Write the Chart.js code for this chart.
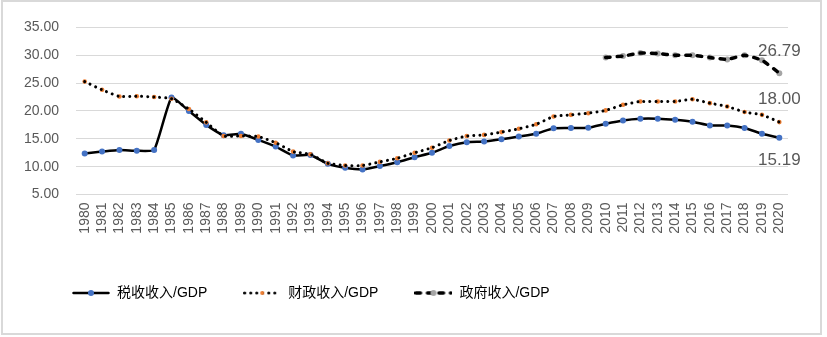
<!DOCTYPE html>
<html>
<head>
<meta charset="utf-8">
<script src="https://cdn.jsdelivr.net/npm/chart.js@4"></script>
<style>
  body { margin: 0; background: #fff; }
  #frame {
    position: absolute; left: 1px; top: 0; width: 821px; height: 335px;
    border: 2px solid #d9d9d9; box-sizing: border-box;
  }
  #box { position: relative; width: 817px; height: 331px; }
</style>
</head>
<body>
<div id="frame"><div id="box"><canvas id="revenueChart"></canvas></div></div>
<script>
const years = [
  "1980", "1981", "1982", "1983", "1984", "1985", "1986", "1987", "1988", "1989",
  "1990", "1991", "1992", "1993", "1994", "1995", "1996", "1997", "1998", "1999",
  "2000", "2001", "2002", "2003", "2004", "2005", "2006", "2007", "2008", "2009",
  "2010", "2011", "2012", "2013", "2014", "2015", "2016", "2017", "2018", "2019", "2020"
];

// 税收收入/GDP
const taxRevenue = [
  12.35, 12.7, 13.0, 12.85, 13.0, 22.4, 20.0, 17.5, 15.65, 15.9,
  14.8, 13.6, 12.0, 12.1, 10.5, 9.8, 9.5, 10.1, 10.8, 11.7,
  12.5, 13.7, 14.4, 14.5, 14.9, 15.4, 15.9, 16.9, 16.95, 17.0,
  17.7, 18.3, 18.6, 18.6, 18.4, 18.05, 17.4, 17.4, 16.95, 15.9, 15.19
];

// 财政收入/GDP
const fiscalRevenue = [
  25.27, 23.8, 22.6, 22.65, 22.5, 22.2, 20.35, 17.95, 15.5, 15.5,
  15.4, 14.3, 12.7, 12.2, 10.6, 10.2, 10.2, 10.85, 11.5, 12.5,
  13.4, 14.7, 15.5, 15.7, 16.2, 16.8, 17.6, 19.0, 19.3, 19.6,
  20.1, 21.1, 21.7, 21.7, 21.7, 22.1, 21.4, 20.8, 19.8, 19.3, 18.00
];

// 政府收入/GDP (only from 2010)
const govRevenue = [
  null, null, null, null, null, null, null, null, null, null,
  null, null, null, null, null, null, null, null, null, null,
  null, null, null, null, null, null, null, null, null, null,
  29.6, 29.85, 30.4, 30.3, 30.0, 30.0, 29.6, 29.25, 30.0, 29.1, 26.79
];

const seriesNames = ["税收收入/GDP", "财政收入/GDP", "政府收入/GDP"];

const fontFamily = "'Liberation Sans', 'Noto Sans CJK SC', sans-serif";
const textGrey = "#595959";

// small line sample with a marker, used as legend symbol
function legendSymbol(dash, width, markerColor, markerRadius) {
  const c = document.createElement("canvas");
  c.width = 38;
  c.height = 10;
  const ctx = c.getContext("2d");
  ctx.strokeStyle = "#000";
  ctx.lineWidth = width;
  ctx.lineCap = "round";
  ctx.setLineDash(dash);
  ctx.beginPath();
  ctx.moveTo(1.5, 5);
  ctx.lineTo(36.5, 5);
  ctx.stroke();
  ctx.setLineDash([]);
  ctx.fillStyle = markerColor;
  ctx.beginPath();
  ctx.arc(19, 5, markerRadius, 0, Math.PI * 2);
  ctx.fill();
  return c;
}

const symbols = [
  legendSymbol([], 2.5, "#4472C4", 3),
  legendSymbol([0.01, 6], 3, "#ED7D31", 2),
  legendSymbol([4.5, 7], 3.5, "#A5A5A5", 3)
];

// values written next to the last point of each series
const endLabels = {
  id: "endLabels",
  afterDatasetsDraw(chart) {
    const ctx = chart.ctx;
    const shifts = { tax: 23, fiscal: -23, gov: -22 };
    ctx.save();
    ctx.font = "17px " + fontFamily;
    ctx.fillStyle = textGrey;
    ctx.textAlign = "center";
    ctx.textBaseline = "middle";
    chart.data.datasets.forEach((ds, i) => {
      if (!(ds.key in shifts)) return;
      const meta = chart.getDatasetMeta(i);
      const last = ds.data.length - 1;
      const pt = meta.data[last];
      ctx.fillText(ds.data[last].toFixed(2), pt.x, pt.y + shifts[ds.key]);
    });
    ctx.restore();
  }
};

// the legend starts further right than the y axis box
const legendShift = {
  id: "legendShift",
  afterLayout(chart) {
    if (chart.legend) chart.legend.left = 33;
  }
};

const config = {
  type: "line",
  data: {
    labels: years,
    datasets: [
      {
        key: "tax",
        label: seriesNames[0],
        data: taxRevenue,
        borderColor: "#000",
        borderWidth: 2.5,
        tension: 0.15,
        pointRadius: 3,
        pointBackgroundColor: "#4472C4",
        pointBorderWidth: 0,
        order: 5
      },
      {
        label: "fiscal markers",
        data: fiscalRevenue,
        showLine: false,
        pointRadius: 2.3,
        pointBackgroundColor: "#ED7D31",
        pointBorderWidth: 0,
        order: 4
      },
      {
        key: "fiscal",
        label: seriesNames[1],
        data: fiscalRevenue,
        borderColor: "#000",
        borderWidth: 3,
        borderDash: [0.01, 6],
        borderCapStyle: "round",
        tension: 0.15,
        pointRadius: 0,
        order: 3
      },
      {
        label: "gov markers",
        data: govRevenue,
        showLine: false,
        pointRadius: 3,
        pointBackgroundColor: "#A5A5A5",
        pointBorderWidth: 0,
        order: 2
      },
      {
        key: "gov",
        label: seriesNames[2],
        data: govRevenue,
        borderColor: "#000",
        borderWidth: 3.5,
        borderDash: [4.5, 7],
        borderCapStyle: "round",
        tension: 0.15,
        pointRadius: 0,
        order: 1
      }
    ]
  },
  options: {
    responsive: true,
    maintainAspectRatio: false,
    animation: false,
    layout: { padding: { left: 14, right: 32, top: 14, bottom: 33 } },
    scales: {
      x: {
        offset: true,
        grid: { display: false, drawTicks: false, offset: true },
        border: { display: false },
        ticks: {
          autoSkip: false,
          maxRotation: 90,
          minRotation: 90,
          padding: 8,
          color: textGrey,
          font: { family: fontFamily, size: 14 }
        },
        afterFit(scale) { scale.height = 55.5; }
      },
      y: {
        min: 5,
        max: 35,
        grid: { color: "#d9d9d9", drawTicks: false },
        border: { display: false },
        ticks: {
          stepSize: 5,
          padding: 17,
          color: textGrey,
          font: { family: fontFamily, size: 14 },
          callback: v => v.toFixed(2)
        },
        afterFit(scale) { scale.width = 59; }
      }
    },
    plugins: {
      tooltip: { enabled: false },
      legend: {
        position: "bottom",
        align: "start",
        maxHeight: 50,
        labels: {
          usePointStyle: true,
          pointStyleWidth: 38,
          padding: 36,
          color: textGrey,
          font: { family: fontFamily, size: 14 },
          generateLabels(chart) {
            return seriesNames.map((name, i) => ({
              text: name,
              pointStyle: symbols[i],
              fillStyle: "#000",
              strokeStyle: "#000",
              lineWidth: 0,
              hidden: false,
              datasetIndex: [0, 2, 4][i]
            }));
          }
        }
      }
    }
  },
  plugins: [endLabels, legendShift]
};

new Chart(document.getElementById("revenueChart"), config);
</script>
</body>
</html>
